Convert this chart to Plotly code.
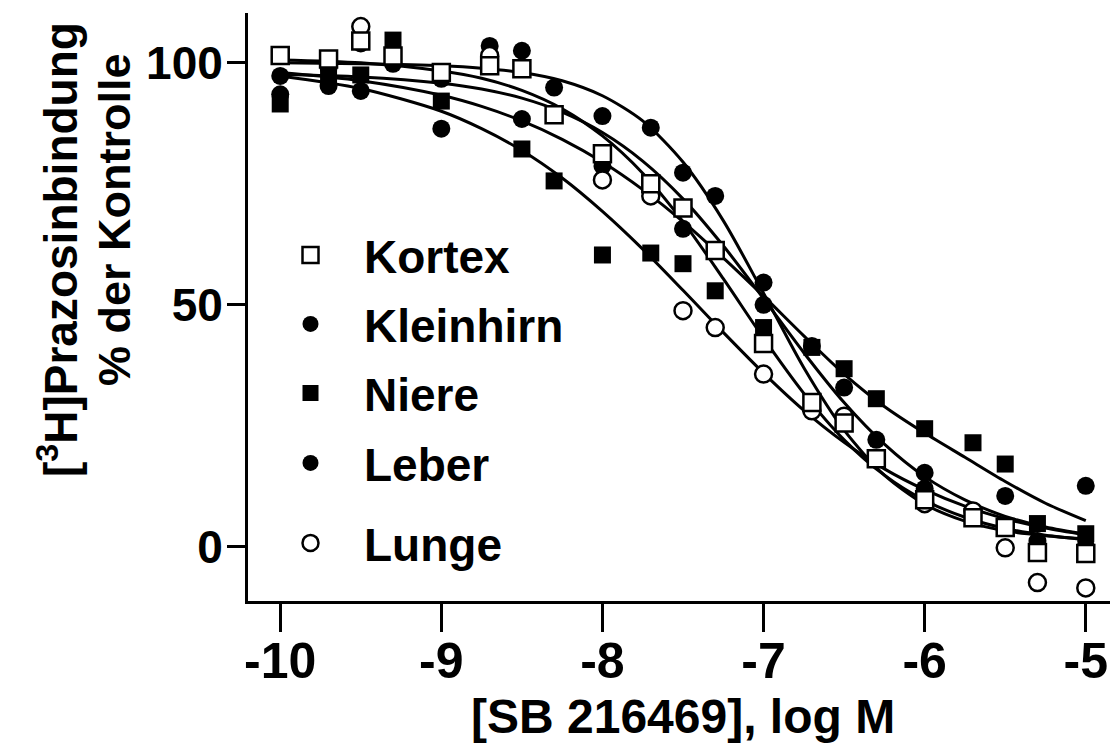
import plotly.graph_objects as go

FONT = "Liberation Sans, Arial, Helvetica, sans-serif"

# ---------------- data ----------------
x_kortex = [-10, -9.7, -9.5, -9.3, -9, -8.7, -8.5, -8.3, -8, -7.7, -7.5, -7.3, -7, -6.7, -6.5, -6.3, -6, -5.7, -5.5, -5.3, -5]
y_kortex = [101.5, 100.8, 104.5, 101.4, 98.0, 99.4, 98.8, 89.3, 81.2, 75.0, 70.0, 61.2, 42.0, 29.8, 25.6, 18.2, 9.7, 6.0, 4.0, -1.2, -1.4]

x_kleinhirn = [-10, -9.7, -9.5, -9.3, -9, -8.7, -8.5, -8.3, -8, -7.7, -7.5, -7.3, -7, -6.7, -6.5, -6.3, -6, -5.7, -5.5, -5.3, -5]
y_kleinhirn = [97.3, 99.0, 104.0, 99.8, 96.7, 103.5, 102.5, 94.9, 89.0, 86.6, 77.3, 72.5, 54.6, 41.5, 26.5, 22.1, 12.0, 6.2, 4.5, 1.2, 0.2]

x_niere = [-10, -9.7, -9.5, -9.3, -9, -8.5, -8.3, -8, -7.7, -7.5, -7.3, -7, -6.7, -6.5, -6.3, -6, -5.7, -5.5, -5.3, -5]
y_niere = [91.5, 97.5, 97.5, 104.7, 92.1, 82.2, 75.6, 60.3, 60.7, 58.5, 52.9, 45.3, 41.2, 36.8, 30.6, 24.4, 21.5, 17.1, 4.8, 2.7]

x_leber = [-10, -9.7, -9.5, -9, -8.5, -8, -7.5, -7, -6.5, -6, -5.7, -5.5, -5]
y_leber = [93.5, 95.2, 94.2, 86.4, 88.4, 78.7, 65.7, 50.0, 32.9, 15.3, 6.5, 10.5, 12.6]

x_lunge = [-9.5, -8.7, -8, -7.7, -7.5, -7.3, -7, -6.7, -6.5, -6, -5.7, -5.5, -5.3, -5]
y_lunge = [107.5, 101.5, 75.8, 72.5, 48.8, 45.3, 35.7, 28.1, 27.0, 8.9, 7.4, -0.2, -7.4, -8.5]

# fitted curves
curve_x = [-10, -9.5, -9, -8.75, -8.5, -8.25, -8, -7.75, -7.5, -7.25, -7, -6.75, -6.5, -6.25, -6, -5.75, -5.5, -5.25, -5]
fit_kortex = [100.6, 100.0, 98.3, 96.8, 94.3, 90.5, 84.9, 77.2, 67.2, 55.4, 43.1, 31.7, 22.1, 14.8, 9.6, 6.1, 3.8, 2.4, 1.5]
fit_kleinhirn = [100.0, 99.8, 99.4, 98.9, 98.0, 96.3, 93.2, 88.0, 79.5, 67.4, 52.4, 37.0, 24.1, 14.8, 8.8, 5.3, 3.3, 2.3, 1.6]
fit_niere = [98.0, 96.3, 93.3, 91.0, 88.0, 84.2, 79.5, 73.8, 67.2, 59.7, 51.8, 43.6, 35.7, 29.0, 23.5, 18.5, 13.5, 9.0, 5.4]
fit_leber = [97.6, 97.1, 95.8, 94.6, 92.7, 89.8, 85.6, 79.7, 71.9, 62.2, 51.3, 40.1, 29.8, 21.2, 14.5, 9.7, 6.3, 4.1, 2.6]
fit_lunge = [97.3, 94.7, 90.0, 86.4, 81.9, 76.2, 69.3, 61.5, 53.0, 44.3, 35.9, 28.2, 21.6, 16.1, 11.8, 8.4, 5.8, 3.9, 2.5]

x_tick_vals = [-10, -9, -8, -7, -6, -5]
x_tick_text = ["-10", "-9", "-8", "-7", "-6", "-5"]
y_tick_vals = [0, 50, 100]
y_tick_text = ["0", "50", "100"]

x_title = "[SB 216469], log M"
y_title_line1 = "[<sup>3</sup>H]Prazosinbindung"
y_title_line2 = "% der Kontrolle"

# ---------------- figure ----------------
W, H = 1118, 746
plot_l, plot_t, plot_w, plot_h = 240, 5, 870, 588
plot_b = plot_t + plot_h

fig = go.Figure()

for ys in [fit_kleinhirn, fit_kortex, fit_leber, fit_niere, fit_lunge]:
    fig.add_trace(go.Scatter(
        x=curve_x, y=ys, mode="lines",
        line=dict(color="black", width=3, shape="spline", smoothing=0.8),
        showlegend=False, hoverinfo="skip"))

series = [
    ("Niere", x_niere, y_niere, "square", "black", 17, "legend3"),
    ("Leber", x_leber, y_leber, "circle", "black", 18, "legend4"),
    ("Kleinhirn", x_kleinhirn, y_kleinhirn, "circle", "black", 18, "legend2"),
    ("Lunge", x_lunge, y_lunge, "circle", "white", 17, "legend5"),
    ("Kortex", x_kortex, y_kortex, "square", "white", 17, "legend"),
]
for name, xs, ys, sym, fill, size, leg in series:
    fig.add_trace(go.Scatter(
        x=xs, y=ys, mode="markers", name=name, legend=leg,
        marker=dict(symbol=sym, size=size, color=fill,
                    line=dict(color="black", width=2.5 if fill == "white" else 0))))

legend_rows = {"legend": 247, "legend2": 316, "legend3": 385, "legend4": 455, "legend5": 535}
legends = {}
for key, ypx in legend_rows.items():
    legends[key] = dict(
        x=(249 - plot_l) / plot_w, xanchor="left",
        y=(plot_b - ypx) / plot_h, yanchor="middle",
        bgcolor="rgba(0,0,0,0)", borderwidth=0,
        font=dict(family=FONT, size=46, color="black", weight="bold"),
        itemwidth=97)

fig.update_layout(
    width=W, height=H,
    margin=dict(l=plot_l, r=W - plot_l - plot_w, t=plot_t, b=H - plot_b),
    paper_bgcolor="white", plot_bgcolor="white",
    font=dict(family=FONT, color="black"),
    **legends,
)

fig.update_xaxes(
    range=[-10.2, -4.8], tickvals=x_tick_vals, ticktext=x_tick_text,
    ticks="outside", ticklen=28, tickwidth=3, tickcolor="black",
    ticklabelstandoff=-14,
    showline=True, linewidth=3, linecolor="black",
    showgrid=False, zeroline=False,
    tickfont=dict(family=FONT, size=50, color="black", weight="bold"))
fig.update_yaxes(
    range=[-11.2, 110.3], tickvals=y_tick_vals, ticktext=y_tick_text,
    ticks="outside", ticklen=18, tickwidth=3, tickcolor="black",
    ticklabelstandoff=-5,
    showline=True, linewidth=3, linecolor="black",
    showgrid=False, zeroline=False,
    tickfont=dict(family=FONT, size=46, color="black", weight="bold"))

fig.add_annotation(
    text=x_title, xref="paper", yref="paper", x=0.5, y=(plot_b - 708) / plot_h,
    xanchor="center", yanchor="middle", showarrow=False,
    font=dict(family=FONT, size=48, color="black", weight="bold"))
fig.add_annotation(
    text=y_title_line1, xref="paper", yref="paper", x=0, xshift=50 - plot_l,
    y=(plot_b - 242) / plot_h, xanchor="center", yanchor="middle",
    textangle=-90, showarrow=False,
    font=dict(family=FONT, size=46, color="black", weight="bold"))
fig.add_annotation(
    text=y_title_line2, xref="paper", yref="paper", x=0, xshift=106 - plot_l,
    y=(plot_b - 212) / plot_h, xanchor="center", yanchor="middle",
    textangle=-90, showarrow=False,
    font=dict(family=FONT, size=45, color="black", weight="bold"))

fig.write_html("out.html")
